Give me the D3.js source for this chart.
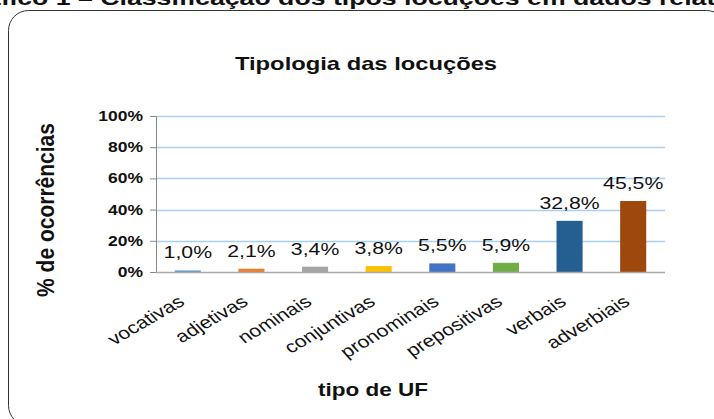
<!DOCTYPE html>
<html>
<head>
<meta charset="utf-8">
<script src="https://cdn.jsdelivr.net/npm/d3@7"></script>
<style>
  body { margin: 0; background: #fff; }
  svg { display: block; }
</style>
</head>
<body>
<svg id="chart" width="714" height="419"></svg>
<script>
// Chart data
const categories = ["vocativas", "adjetivas", "nominais", "conjuntivas", "pronominais", "prepositivas", "verbais", "adverbiais"];
const values = [1.0, 2.1, 3.4, 3.8, 5.5, 5.9, 32.8, 45.5];
const barColors = ["#5b9bd5", "#ed7d31", "#a5a5a5", "#ffc000", "#4472c4", "#70ad47", "#255e91", "#9e480e"];
const yTicks = [0, 20, 40, 60, 80, 100];
const chartTitle = "Tipologia das locuções";
const xTitle = "tipo de UF";
const yTitle = "% de ocorrências";
const caption = "Gráfico 1 – Classificação dos tipos locuções em dados relativos";

const W = 714, H = 419;
const SX = 1.25; // horizontal text stretch
const FONT = "Arial, 'Liberation Sans', sans-serif";

const svg = d3.select("#chart");
svg.append("rect").attr("width", W).attr("height", H).attr("fill", "#fff");

const plot = { left: 156, right: 665, top: 116, bottom: 272 };

const x = d3.scaleBand().domain(categories).range([plot.left, plot.right]).paddingInner(0.59).paddingOuter(0.295);
const y = d3.scaleLinear().domain([0, 100]).range([plot.bottom, plot.top]);

function fmt(v) { return v.toFixed(1).replace(".", ",") + "%"; }

function stretched(g, px, py, rot, sx) {
  return g.attr("transform", `translate(${px},${py}) scale(${sx || SX},1)` + (rot ? ` rotate(${rot})` : ""));
}

// Caption running off the top edge
stretched(svg.append("text"), -45, 5, 0, 1.27)
  .attr("font-family", "'Liberation Sans', Arial, sans-serif")
  .attr("font-weight", "bold").attr("font-size", 21).attr("fill", "#111")
  .attr("x", 0).attr("y", 0).text(caption);

// Rounded frame
svg.append("rect")
  .attr("x", 8.5).attr("y", 10.5).attr("width", 718).attr("height", 415)
  .attr("rx", 20).attr("ry", 20)
  .attr("fill", "none").attr("stroke", "#333").attr("stroke-width", 1);

// Gridlines
svg.append("g").selectAll("line").data(yTicks.filter(d => d > 0)).join("line")
  .attr("x1", plot.left).attr("x2", plot.right)
  .attr("y1", d => Math.round(y(d)) + 0.5).attr("y2", d => Math.round(y(d)) + 0.5)
  .attr("stroke", "#a9cff2").attr("stroke-width", 1.5);

// Y axis
const yAxis = d3.axisLeft(y).tickValues(yTicks).tickSize(6).tickFormat(d => "");
const yg = svg.append("g").attr("transform", `translate(${plot.left},0)`).call(yAxis);
yg.select(".domain").attr("stroke", "#888");
yg.selectAll(".tick line").attr("stroke", "#888");

// Y tick labels
svg.append("g").selectAll("text").data(yTicks).join("text")
  .each(function (d) { stretched(d3.select(this), 143, y(d) + 5, 0); })
  .attr("text-anchor", "end")
  .attr("font-family", FONT).attr("font-weight", "bold").attr("font-size", 14).attr("fill", "#111")
  .text(d => d + "%");

// Bars
svg.append("g").selectAll("rect").data(values).join("rect")
  .attr("x", (d, i) => x(categories[i]))
  .attr("width", x.bandwidth())
  .attr("y", d => y(d))
  .attr("height", d => y(0) - y(d))
  .attr("fill", (d, i) => barColors[i]);

// Baseline
svg.append("line")
  .attr("x1", plot.left).attr("x2", plot.right)
  .attr("y1", plot.bottom + 0.5).attr("y2", plot.bottom + 0.5)
  .attr("stroke", "#aaa").attr("stroke-width", 1.5);

// Value labels
svg.append("g").selectAll("text").data(values).join("text")
  .each(function (d, i) { stretched(d3.select(this), x(categories[i]) + x.bandwidth() / 2, y(d) - 12, 0); })
  .attr("text-anchor", "middle")
  .attr("font-family", FONT).attr("font-size", 17).attr("fill", "#111")
  .text(d => fmt(d));

// Category labels
svg.append("g").selectAll("text").data(categories).join("text")
  .each(function (d) { stretched(d3.select(this), x(d) + x.bandwidth() / 2 - 2, 304, -36); })
  .attr("text-anchor", "end")
  .attr("font-family", FONT).attr("font-size", 17).attr("fill", "#111")
  .text(d => d);

// Chart title
stretched(svg.append("text"), 366, 70, 0)
  .attr("text-anchor", "middle")
  .attr("font-family", FONT).attr("font-weight", "bold").attr("font-size", 19).attr("fill", "#111")
  .text(chartTitle);

// Axis titles
stretched(svg.append("text"), 373, 396, 0)
  .attr("text-anchor", "middle")
  .attr("font-family", FONT).attr("font-weight", "bold").attr("font-size", 18).attr("fill", "#111")
  .text(xTitle);

svg.append("text")
  .attr("transform", `translate(54,210) scale(1.1,1) rotate(-90)`)
  .attr("text-anchor", "middle")
  .attr("font-family", FONT).attr("font-weight", "bold").attr("font-size", 21).attr("fill", "#111")
  .text(yTitle);
</script>
</body>
</html>
